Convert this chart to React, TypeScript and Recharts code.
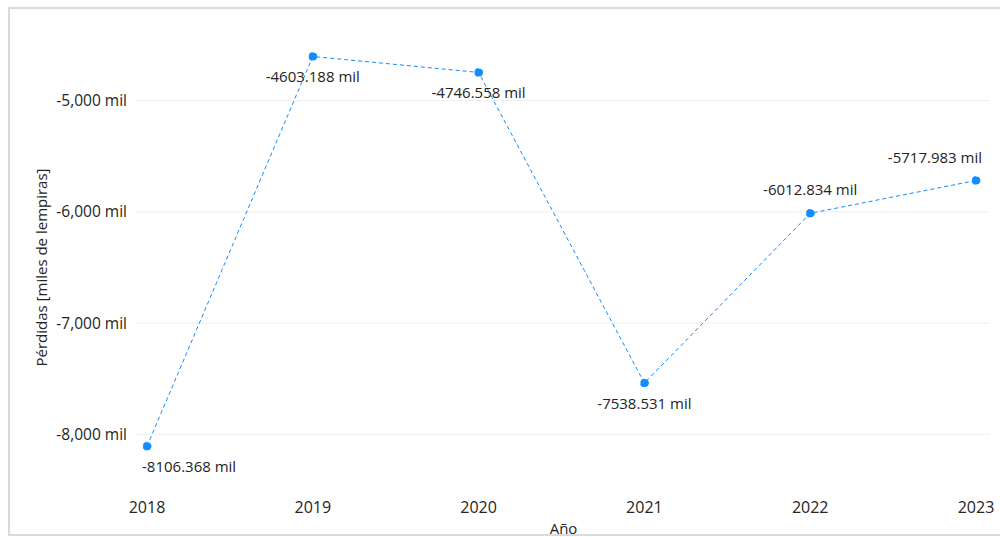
import React from 'react';
import {
  LineChart,
  Line,
  XAxis,
  YAxis,
  ReferenceLine,
  LabelList
} from 'recharts';

const years = ['2018', '2019', '2020', '2021', '2022', '2023'];
const losses = [-8106.368, -4603.188, -4746.558, -7538.531, -6012.834, -5717.983];
const yTicks = [-8000, -7000, -6000, -5000];

const data = years.map((year, i) => ({ year, value: losses[i] }));

const FONT = '"Segoe UI", "Open Sans", sans-serif';
const TEXT = '#252423';
const BLUE = '#118DFF';

const formatTick = (v: number) => `${v.toLocaleString('en-US')} mil`;

const PointLabel = (props: any) => {
  const { x, y, value, index } = props;
  const above = index >= 4;
  const last = index === losses.length - 1;
  let anchor: 'start' | 'middle' | 'end' = 'middle';
  let tx = x;
  if (index === 0) {
    anchor = 'start';
    tx = x - 5;
  } else if (last) {
    anchor = 'end';
    tx = x + 6;
  }
  return (
    <text
      x={tx}
      y={above ? y - 22 : y + 22}
      textAnchor={anchor}
      dominantBaseline="middle"
      fill={TEXT}
      fontSize={15}
      fontFamily={FONT}
    >
      {`${value.toFixed(3)} mil`}
    </text>
  );
};

const App: React.FC = () => {
  return (
    <div
      style={{
        position: 'fixed',
        top: 7,
        left: 8,
        width: 994,
        height: 529,
        border: '2px solid #dadada',
        boxSizing: 'border-box',
        background: '#fff'
      }}
    >
      <LineChart
        width={990}
        height={525}
        data={data}
        margin={{ top: 36, right: 10, left: 0, bottom: 0 }}
      >
        {yTicks.map((t) => (
          <ReferenceLine key={t} y={t} stroke="#eeeeee" strokeWidth={1} />
        ))}
        <XAxis
          dataKey="year"
          axisLine={false}
          tickLine={false}
          height={44}
          padding={{ left: 10, right: 14 }}
          tickMargin={6}
          tick={{ fill: TEXT, fontSize: 16, fontFamily: FONT }}
          label={{
            value: 'Año',
            position: 'insideBottom',
            offset: 0,
            fill: TEXT,
            fontSize: 15,
            fontFamily: FONT
          }}
        />
        <YAxis
          width={127}
          domain={[-8500, -4500]}
          ticks={yTicks}
          axisLine={false}
          tickLine={false}
          tickMargin={4}
          tickFormatter={formatTick}
          tick={{ fill: TEXT, fontSize: 15.5, fontFamily: FONT }}
          label={{
            value: 'Pérdidas [miles de lempiras]',
            angle: -90,
            position: 'insideLeft',
            offset: 32,
            fill: TEXT,
            fontSize: 15,
            fontFamily: FONT,
            style: { textAnchor: 'middle' }
          }}
        />
        <Line
          type="linear"
          dataKey="value"
          stroke={BLUE}
          strokeWidth={1}
          strokeDasharray="4 3"
          dot={{ r: 4, fill: BLUE, stroke: BLUE, strokeWidth: 1 }}
          isAnimationActive={false}
        >
          <LabelList dataKey="value" content={PointLabel} />
        </Line>
      </LineChart>
    </div>
  );
};

export default App;
